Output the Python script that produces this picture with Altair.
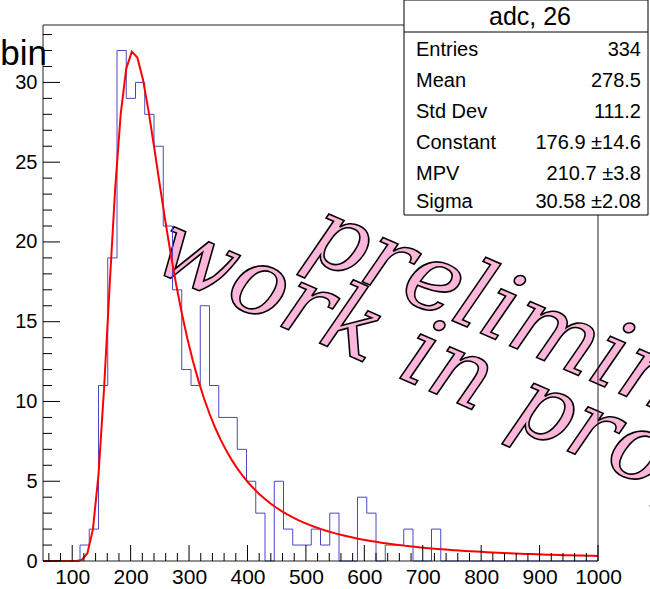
import numpy as np
import pandas as pd
import altair as alt

# ---- histogram "adc, 26": 60 bins from 50 to 1000 ----
x_lo, x_hi, n_bins = 50.0, 1000.0, 60
counts = [0, 0, 0, 0, 1, 2, 11, 19, 32, 29,
          30, 28, 26, 21, 17, 12, 11, 16, 11, 9,
          9, 7, 5, 3, 0, 5, 2, 1, 1, 2,
          1, 3, 0, 0, 4, 3, 0, 1, 1, 2,
          0, 0, 2, 0, 0, 0, 0, 0, 0, 0,
          0, 0, 0, 0, 0, 0, 0, 0, 0, 0]
y_max = 33.6

# ---- Landau fit result ----
fit_constant = 176.9
fit_mpv = 210.7
fit_sigma = 30.58
fit_npx = 100

# ---- statistics box ----
stats_title = "adc, 26"
stat_labels = ["Entries", "Mean", "Std Dev", "Constant", "MPV", "Sigma"]
stat_values = ["334", "278.5", "111.2", "176.9 \u00b114.6", "210.7 \u00b13.8", "30.58 \u00b12.08"]

# ---- axis ticks ----
x_major = [100, 200, 300, 400, 500, 600, 700, 800, 900, 1000]
x_minor = [v for v in range(60, 1001, 20) if v % 100 != 0]
y_major = [0, 5, 10, 15, 20, 25, 30]
y_minor = [v for v in range(0, 34) if v % 5 != 0]


def landau_density(x, mpv, sigma):
    """Landau density (CERNLIB DENLAN approximation, unnormalised in sigma)."""
    p1 = [0.4259894875, -0.1249762550, 0.03984243700, -0.006298287635, 0.001511162253]
    q1 = [1.0, -0.3388260629, 0.09594393323, -0.01608042283, 0.003778942063]
    p2 = [0.1788541609, 0.1173957403, 0.01488850518, -0.001394989411, 0.0001283617211]
    q2 = [1.0, 0.7428795082, 0.3153932961, 0.06694219548, 0.008790609714]
    p3 = [0.1788544503, 0.09359161662, 0.006325387654, 0.00006611667319, -0.000002031049101]
    q3 = [1.0, 0.6097809921, 0.2560616665, 0.04746722384, 0.006957301675]
    p4 = [0.9874054407, 118.6723273, 849.2794360, -743.7792444, 427.0262186]
    q4 = [1.0, 106.8615961, 337.6496214, 2016.712389, 1597.063511]
    p5 = [1.003675074, 167.5702434, 4789.711289, 21217.86767, -22324.94910]
    q5 = [1.0, 156.9424537, 3745.310488, 9834.698876, 66924.28357]
    p6 = [1.000827619, 664.9143136, 62972.92665, 475554.6998, -5743609.109]
    q6 = [1.0, 651.4101098, 56974.73333, 165917.4725, -2815759.939]
    a1 = [0.04166666667, -0.01996527778, 0.02709538966]
    a2 = [-1.845568670, -4.284640743]

    def poly(c, t):
        return c[0] + (c[1] + (c[2] + (c[3] + c[4] * t) * t) * t) * t

    v = (x - mpv) / sigma
    if v < -5.5:
        u = np.exp(v + 1.0)
        if u < 1e-10:
            return 0.0
        ue = np.exp(-1.0 / u)
        us = np.sqrt(u)
        return 0.3989422803 * (ue / us) * (1 + (a1[0] + (a1[1] + a1[2] * u) * u) * u)
    if v < -1:
        u = np.exp(-v - 1)
        return np.exp(-u) * np.sqrt(u) * poly(p1, v) / poly(q1, v)
    if v < 1:
        return poly(p2, v) / poly(q2, v)
    if v < 5:
        return poly(p3, v) / poly(q3, v)
    if v < 12:
        u = 1 / v
        return u * u * poly(p4, u) / poly(q4, u)
    if v < 50:
        u = 1 / v
        return u * u * poly(p5, u) / poly(q5, u)
    if v < 300:
        u = 1 / v
        return u * u * poly(p6, u) / poly(q6, u)
    u = 1 / (v - v * np.log(v) / (v + 1))
    return u * u * (1 + (a2[0] + a2[1] * u) * u)


# ---- tables ----
bin_w = (x_hi - x_lo) / n_bins
edges = [x_lo + i * bin_w for i in range(n_bins + 1)]
hist_df = pd.DataFrame({"x": edges, "n": counts + [counts[-1]]})

fit_x = np.linspace(x_lo, x_hi, fit_npx + 1)
fit_df = pd.DataFrame({
    "x": fit_x,
    "y": [fit_constant * landau_density(v, fit_mpv, fit_sigma) for v in fit_x],
})

# ---- layout (pixels) ----
W, H = 555, 536
PAD_L, PAD_T = 43, 25
FONT = "Liberation Sans"
BLUE = "#4848c4"
RED = "#ff0000"

xs = alt.Scale(domain=[x_lo, x_hi], nice=False, zero=False)
ys = alt.Scale(domain=[0, y_max], nice=False, zero=True)

x_axis = alt.Axis(values=x_major, format="d", ticks=False, domain=False, grid=False,
                  labelFont=FONT, labelFontSize=21, labelColor="black",
                  labelPadding=5, labelFlush=False, title=None)
y_axis = alt.Axis(values=y_major, format="d", ticks=False, domain=False, grid=False,
                  labelFont=FONT, labelFontSize=20, labelColor="black",
                  labelPadding=6, title=None)

one = pd.DataFrame({"t": [0]})

# watermark (behind the data)
wm_style = dict(font="DejaVu Serif", fontStyle="italic", fontSize=94,
                align="left", baseline="alphabetic", angle=23.5,
                fill="#ffb6db", stroke="black", strokeWidth=1.6)
watermark = [
    alt.Chart(one).mark_text(text="preliminary", **wm_style).encode(
        x=alt.value(258), y=alt.value(230)),
    alt.Chart(one).mark_text(text="work in progress", **wm_style).encode(
        x=alt.value(106), y=alt.value(244)),
]

hist = alt.Chart(hist_df).mark_line(
    interpolate="step-after", color=BLUE, strokeWidth=1
).encode(
    x=alt.X("x:Q", scale=xs, axis=x_axis),
    y=alt.Y("n:Q", scale=ys, axis=y_axis),
)

fit = alt.Chart(fit_df).mark_line(color=RED, strokeWidth=2).encode(
    x=alt.X("x:Q", scale=xs),
    y=alt.Y("y:Q", scale=ys),
)

# frame
frame_col = "#222222"
frame = [
    alt.Chart(one).mark_rule(color=frame_col, strokeWidth=1).encode(
        x=alt.value(0), x2=alt.value(W), y=alt.value(0)),
    alt.Chart(one).mark_rule(color=frame_col, strokeWidth=1).encode(
        x=alt.value(0), x2=alt.value(W), y=alt.value(H)),
    alt.Chart(one).mark_rule(color=frame_col, strokeWidth=1).encode(
        x=alt.value(0), y=alt.value(0), y2=alt.value(H)),
    alt.Chart(one).mark_rule(color=frame_col, strokeWidth=1).encode(
        x=alt.value(W), y=alt.value(0), y2=alt.value(H)),
]


# inward ticks
def x_ticks(vals, length):
    return alt.Chart(pd.DataFrame({"v": vals})).mark_rule(color="black", strokeWidth=1).encode(
        x=alt.X("v:Q", scale=xs), y=alt.value(H), y2=alt.value(H - length))


def y_ticks(vals, length):
    return alt.Chart(pd.DataFrame({"v": vals})).mark_rule(color="black", strokeWidth=1).encode(
        y=alt.Y("v:Q", scale=ys), x=alt.value(0), x2=alt.value(length))


ticks = [x_ticks(x_major, 16), x_ticks(x_minor, 8), y_ticks(y_major, 17), y_ticks(y_minor, 9)]

# y title fragment at top-left
ytitle = alt.Chart(one).mark_text(
    text="bin", font=FONT, fontSize=35, align="right", baseline="alphabetic", color="black"
).encode(x=alt.value(4), y=alt.value(40))

# statistics box
bx0, bx1 = 404 - PAD_L, 648 - PAD_L
by0, by1 = 0 - PAD_T, 215 - PAD_T
sep_y = 32 - PAD_T
stats = [
    alt.Chart(one).mark_rect(
        fill="white", stroke="black", strokeWidth=1
    ).encode(x=alt.value(bx0), x2=alt.value(bx1), y=alt.value(by0), y2=alt.value(by1)),
    alt.Chart(one).mark_rule(color="black", strokeWidth=1).encode(
        x=alt.value(bx0), x2=alt.value(bx1), y=alt.value(sep_y)),
    alt.Chart(one).mark_text(
        text=stats_title, font=FONT, fontSize=25, align="center", baseline="alphabetic", color="black"
    ).encode(x=alt.value(530 - PAD_L), y=alt.value(25 - PAD_T)),
]
row_base = [56, 87, 118, 149, 180, 208]
for lab, val, yb in zip(stat_labels, stat_values, row_base):
    stats.append(alt.Chart(one).mark_text(
        text=lab, font=FONT, fontSize=20, align="left", baseline="alphabetic", color="black"
    ).encode(x=alt.value(416 - PAD_L), y=alt.value(yb - PAD_T)))
    stats.append(alt.Chart(one).mark_text(
        text=val, font=FONT, fontSize=20, align="right", baseline="alphabetic", color="black"
    ).encode(x=alt.value(641 - PAD_L), y=alt.value(yb - PAD_T)))

chart = alt.layer(
    *watermark, hist, fit, *frame, *ticks, ytitle, *stats
).properties(
    width=W, height=H,
    autosize=alt.AutoSizeParams(type="none"),
    padding={"left": PAD_L, "top": PAD_T, "right": 650 - PAD_L - W, "bottom": 589 - PAD_T - H},
    background="white",
).configure_view(stroke=None)

chart.save("out.html", embed_options={"renderer": "svg", "actions": False})
